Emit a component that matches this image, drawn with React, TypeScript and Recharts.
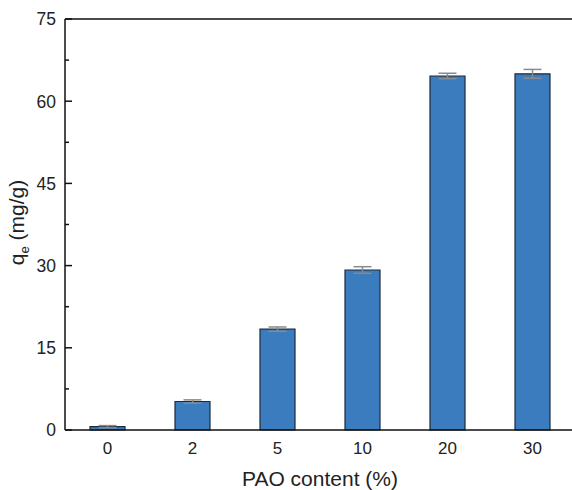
import { Bar, BarChart, ErrorBar, ReferenceLine, XAxis, YAxis } from "recharts";

const categories = ["0", "2", "5", "10", "20", "30"];
const qeValues = [0.6, 5.2, 18.4, 29.2, 64.6, 65.0];
const qeErrors = [0.2, 0.3, 0.4, 0.6, 0.5, 0.8];
const yTicks = [0, 7.5, 15, 22.5, 30, 37.5, 45, 52.5, 60, 67.5, 75];

const data = categories.map((c, i) => ({ name: c, qe: qeValues[i], err: qeErrors[i] }));

const font = "'Liberation Sans', Arial, sans-serif";

const YTick = ({ x, y, payload }: any) => {
  const major = payload.value % 15 === 0;
  const axisX = x + 8;
  return (
    <g>
      <line x1={axisX} x2={axisX + (major ? 7 : 4)} y1={y} y2={y} stroke="#111" strokeWidth={1.5} />
      {major && (
        <text x={axisX - 9} y={y} dy="0.36em" textAnchor="end" fontSize={17.5} fill="#222" fontFamily={font}>
          {payload.value}
        </text>
      )}
    </g>
  );
};

const YLabel = ({ viewBox }: any) => {
  const cy = viewBox.y + viewBox.height / 2 - 2;
  return (
    <text
      transform={`translate(24, ${cy}) rotate(-90)`}
      textAnchor="middle"
      fontSize={21}
      fill="#222"
      fontFamily={font}
    >
      q<tspan fontSize={13} dy={5}>e</tspan>
      <tspan dy={-5}> (mg/g)</tspan>
    </text>
  );
};

// x label drawn from the axis viewBox
const XLabel = ({ viewBox }: any) => (
  <text
    x={viewBox.x + viewBox.width / 2}
    y={486}
    textAnchor="middle"
    fontSize={21}
    fill="#222"
    fontFamily={font}
  >
    PAO content (%)
  </text>
);

export default function App() {
  return (
    <div style={{ position: "absolute", left: 0, top: 0, width: 572, height: 490, overflow: "hidden", background: "#fff" }}>
      <BarChart
        width={580}
        height={490}
        data={data}
        margin={{ top: 19, right: 5, left: 15, bottom: 25 }}
        barSize={35}
      >
        <XAxis
          dataKey="name"
          tickLine={false}
          axisLine={{ stroke: "#111", strokeWidth: 1.5 }}
          tick={{ fontSize: 17, fill: "#222", fontFamily: font }}
          tickMargin={6}
          height={35}
          label={<XLabel />}
        />
        <YAxis
          width={50}
          domain={[0, 75]}
          ticks={yTicks}
          interval={0}
          tickLine={false}
          axisLine={{ stroke: "#111", strokeWidth: 1.5 }}
          tick={<YTick />}
          label={<YLabel />}
        />
        <ReferenceLine y={75} stroke="#111" strokeWidth={1.5} />
        <Bar dataKey="qe" fill="#3a7cbd" stroke="#1c2a3a" strokeWidth={1.2} isAnimationActive={false}>
          <ErrorBar dataKey="err" width={9} stroke="#8a8a8a" strokeWidth={1.5} />
        </Bar>
      </BarChart>
    </div>
  );
}
